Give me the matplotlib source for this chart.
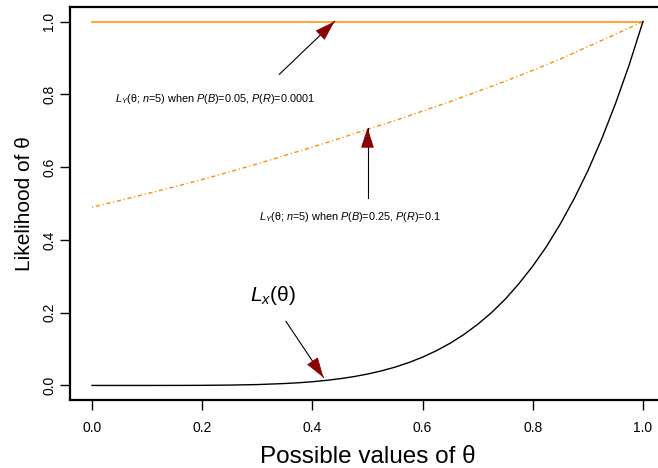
import numpy as np
import matplotlib
matplotlib.use('Agg')
from matplotlib import pyplot as plt
from matplotlib.patches import FancyArrowPatch

# %% Fonts.
plt.rcParams['font.family'] = ['Liberation Sans', 'DejaVu Sans']
plt.rcParams['mathtext.fontset'] = 'custom'
plt.rcParams['mathtext.rm'] = 'Liberation Sans'
plt.rcParams['mathtext.it'] = 'Liberation Sans:italic'

# %% Data.
# L_x(theta), black curve:
theta_x = [0.00, 0.05, 0.10, 0.15, 0.20, 0.25, 0.30, 0.35, 0.375, 0.40,
           0.425, 0.45, 0.475, 0.50, 0.525, 0.55, 0.575, 0.60, 0.625, 0.65,
           0.675, 0.70, 0.725, 0.75, 0.775, 0.80, 0.825, 0.85, 0.875, 0.90,
           0.925, 0.95, 0.975, 1.00]
lik_x = [0.0, 0.0, 0.00001, 0.00008, 0.0003, 0.001, 0.0024, 0.0053, 0.0074,
         0.0102, 0.0139, 0.0185, 0.0242, 0.0313, 0.0399, 0.0503, 0.0629,
         0.0778, 0.0954, 0.116, 0.140, 0.168, 0.200, 0.237, 0.280, 0.328,
         0.382, 0.444, 0.513, 0.590, 0.677, 0.774, 0.881, 1.0]
# L_Y, P(B)=0.25, P(R)=0.1, dot-dash orange:
theta_y = [0.00, 0.05, 0.10, 0.15, 0.20, 0.25, 0.30, 0.35, 0.40, 0.45, 0.50,
           0.55, 0.60, 0.65, 0.70, 0.75, 0.80, 0.85, 0.90, 0.95, 1.00]
lik_y1 = [0.490, 0.508, 0.527, 0.546, 0.566, 0.587, 0.609, 0.632, 0.655,
          0.679, 0.704, 0.728, 0.754, 0.780, 0.808, 0.836, 0.866, 0.897,
          0.931, 0.965, 1.0]
# L_Y, P(B)=0.05, P(R)=0.0001, solid orange:
lik_y2 = [1.0] * len(theta_y)

# Annotations: text, text position, arrow start, arrow tip, font size.
l_ann = [
    [r'$L_Y$(θ; $n$=5) when $P$($B$)=0.05, $P$($R$)=0.0001', (0.223, 0.788),
     (0.340, 0.855), (0.440, 1.000), 7.8],
    [r'$L_Y$(θ; $n$=5) when $P$($B$)=0.25, $P$($R$)=0.1', (0.468, 0.463),
     (0.500, 0.515), (0.500, 0.708), 7.8],
    [r'$L_x$(θ)', (0.329, 0.246), (0.352, 0.176), (0.420, 0.022), 15],
]

# %% Figure.
fig = plt.figure(figsize=(6.58, 4.68), dpi=100)
ax = fig.add_axes([70 / 658, 68 / 468, 595 / 658, 393 / 468])

ax.plot(theta_y, lik_y2, color='#FFA540', lw=1.5, zorder=3)
ax.plot(theta_y, lik_y1, color='#FF8C00', lw=1.0, dashes=(0.8, 2, 3, 2),
        zorder=3)
ax.plot(theta_x, lik_x, color='black', lw=1.0, zorder=3)

# Arrows and labels:
for txt, pos_t, pos_a, pos_b, fs in l_ann:
    ax.text(pos_t[0], pos_t[1], txt, fontsize=fs, ha='center', va='center')
    ax.plot([pos_a[0], pos_b[0]], [pos_a[1], pos_b[1]], color='black',
            lw=0.8, zorder=4)
    base = (pos_a[0] + 0.85 * (pos_b[0] - pos_a[0]),
            pos_a[1] + 0.85 * (pos_b[1] - pos_a[1]))
    arr = FancyArrowPatch(base, pos_b,
                          arrowstyle='-|>,head_length=1.3,head_width=0.42',
                          mutation_scale=10, color='#8B0000', lw=0.6,
                          shrinkA=0, shrinkB=0, zorder=5)
    ax.add_patch(arr)

# Axis:
ax.set_xlim(-0.04, 1.04)
ax.set_ylim(-0.04, 1.04)
ax.set_xticks([0.0, 0.2, 0.4, 0.6, 0.8, 1.0])
ax.set_yticks([0.0, 0.2, 0.4, 0.6, 0.8, 1.0])
ax.set_xticklabels(['0.0', '0.2', '0.4', '0.6', '0.8', '1.0'])
ax.set_yticklabels(['0.0', '0.2', '0.4', '0.6', '0.8', '1.0'], rotation=90,
                   va='center')
ax.tick_params(direction='out', length=7, width=1, labelsize=10)
ax.tick_params(axis='x', pad=8)
ax.tick_params(axis='y', pad=3)
for sp in ax.spines.values():
    sp.set_linewidth(1.6)

ax.set_xlabel('Possible values of θ', fontsize=17.5, labelpad=8)
ax.set_ylabel('Likelihood of θ', fontsize=15)
ax.yaxis.set_label_coords(-0.06, 0.5)

fig.savefig('out.png', dpi=100)
